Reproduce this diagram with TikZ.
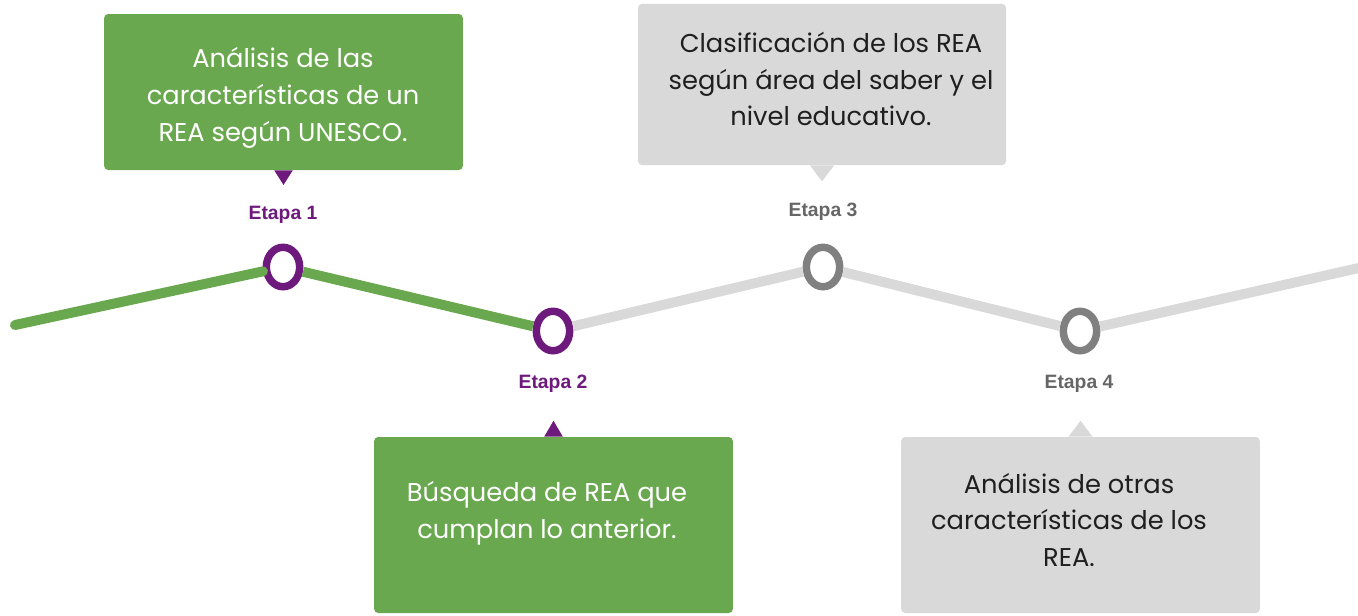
\documentclass[tikz,border=0pt]{standalone}
\usepackage{fontspec}
\setmainfont{Poppins}
\newfontfamily\etapafont{Liberation Sans}
\usetikzlibrary{shapes.geometric}
\definecolor{reagreen}{HTML}{6AA84F}
\definecolor{reapurple}{HTML}{6D1A7C}
\definecolor{reagrey}{HTML}{D9D9D9}
\definecolor{rearing}{HTML}{808080}
\definecolor{realabel}{HTML}{666666}
\definecolor{reatext}{HTML}{1F1F1F}

\begin{document}
\begin{tikzpicture}[x=0.75pt, y=-0.75pt,
  every node/.style={font=\fontsize{19.3}{27.5}\selectfont},
  stagebox/.style={rectangle, rounded corners=3pt, inner sep=0pt},
  boxtext/.style={align=center, inner sep=0pt},
  ring/.style={ellipse, draw, line width=5.6pt, fill=white,
    minimum width=25pt, minimum height=29.6pt, inner sep=0pt},
  etapa/.style={font=\etapafont\bfseries\fontsize{14.5}{17}\selectfont},
  track/.style={line width=7.5pt}]
      \clip (0,0) rectangle (1358,615);
      % Callout boxes
      \node[stagebox, fill=reagreen, minimum width=269pt, minimum height=117pt] (b1) at (283.5,92) {};
      \node[stagebox, fill=reagrey, minimum width=276pt, minimum height=121pt] (b3) at (822,84.5) {};
      \node[stagebox, fill=reagreen, minimum width=269pt, minimum height=132pt] (b2) at (553.5,525) {};
      \node[stagebox, fill=reagrey, minimum width=269pt, minimum height=132pt] (b4) at (1080.5,525) {};
      % Pointers of the boxes
      \fill[reapurple] ([xshift=-7pt]b1.south) -- ([xshift=7pt]b1.south) -- ([yshift=-11pt]b1.south) -- cycle;
      \fill[reagrey] ([xshift=-9pt]b3.south) -- ([xshift=9pt]b3.south) -- ([yshift=-12pt]b3.south) -- cycle;
      \fill[reapurple] ([xshift=-7pt]b2.north) -- ([xshift=7pt]b2.north) -- ([yshift=12pt]b2.north) -- cycle;
      \fill[reagrey] ([xshift=-9pt]b4.north) -- ([xshift=9pt]b4.north) -- ([yshift=12pt]b4.north) -- cycle;
      % Box texts
      \node[boxtext, text=white] (t1) at (283,98) {Análisis de las\\características de un\\REA según UNESCO.};
      \node[boxtext, text=reatext] (t3) at (831,79) {Clasificación de los REA\\según área del saber y el\\nivel educativo.};
      \node[boxtext, text=white] (t2) at (547,513) {Búsqueda de REA que\\cumplan lo anterior.};
      \node[boxtext, text=reatext] (t4) at (1069,520) {Análisis de otras\\características de los\\REA.};
      % Stage rings
      \node[ring, draw=reapurple] (c1) at (283,267) {};
      \node[ring, draw=reapurple] (c2) at (553,331) {};
      \node[ring, draw=rearing] (c3) at (823,267) {};
      \node[ring, draw=rearing] (c4) at (1080,331) {};
      \coordinate (start) at (15,325);
      \coordinate (end) at (1372,265);
      % Track between the rings
      \draw[track, reagreen, line cap=round] (start) -- (c1);
      \draw[track, reagreen] (c1) -- (c2);
      \draw[track, reagrey] (c2) -- (c3);
      \draw[track, reagrey] (c3) -- (c4);
      \draw[track, reagrey] (c4) -- (end);
      % Stage labels
      \node[etapa, text=reapurple] (e1) at (283,215) {Etapa 1};
      \node[etapa, text=reapurple] (e2) at (553,384) {Etapa 2};
      \node[etapa, text=realabel] (e3) at (823,212) {Etapa 3};
      \node[etapa, text=realabel] (e4) at (1079,384) {Etapa 4};
    \end{tikzpicture}
\end{document}
